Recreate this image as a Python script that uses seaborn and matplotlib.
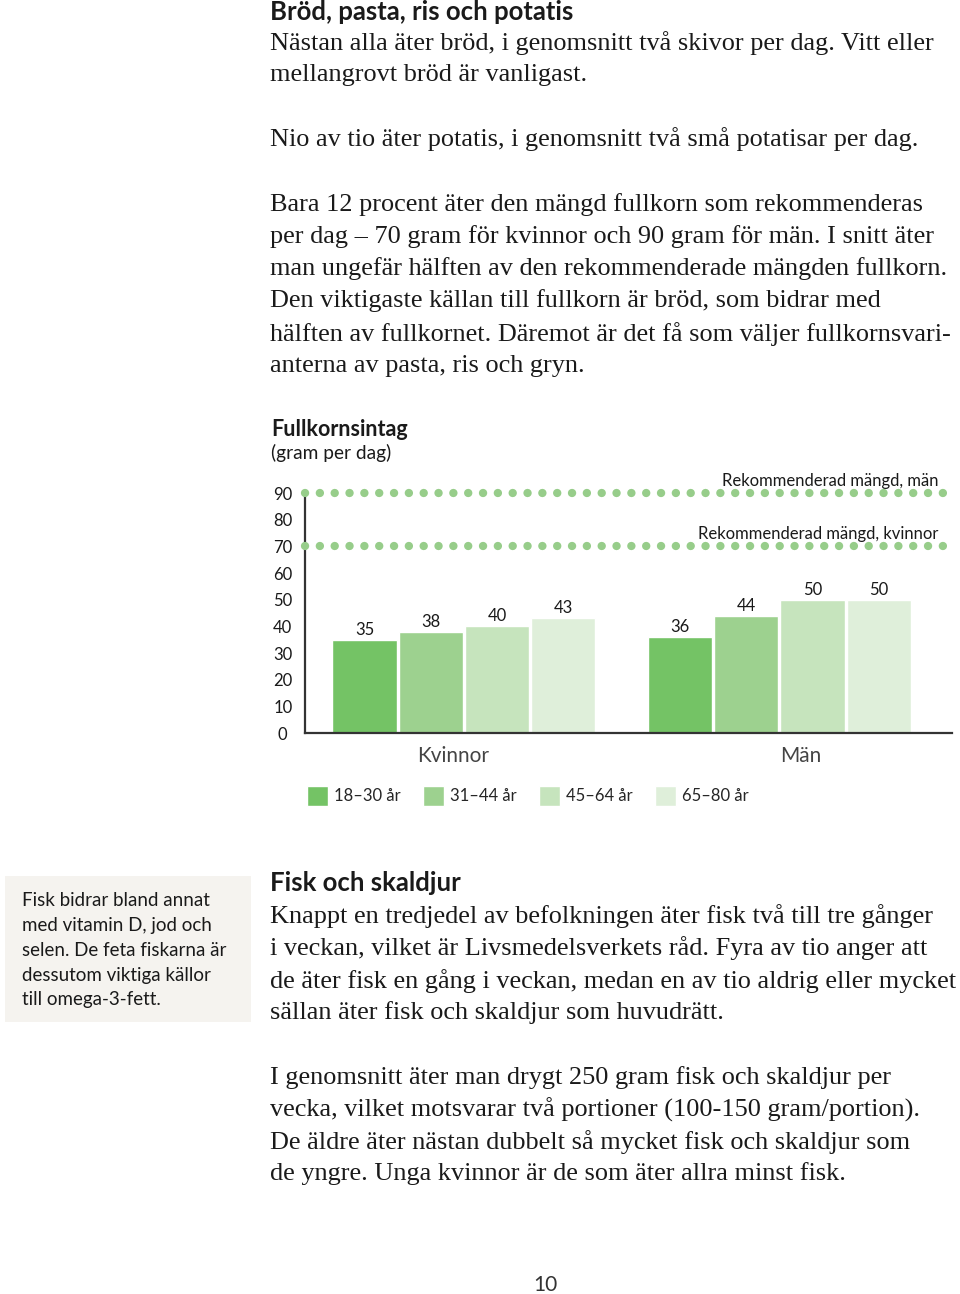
import matplotlib
matplotlib.use("Agg")
import matplotlib.pyplot as plt
import seaborn as sns
import pandas as pd

# ---------------- data ----------------
groups = ["Kvinnor", "Män"]
age_bands = ["18–30 år", "31–44 år", "45–64 år", "65–80 år"]
kvinnor_values = [35, 38, 40, 43]
man_values = [36, 44, 50, 50]
rek_man = 90
rek_kvinnor = 70
yticks = [0, 10, 20, 30, 40, 50, 60, 70, 80, 90]
palette = ["#74c365", "#9dd18f", "#c6e4bd", "#dfefda"]

heading1 = "Bröd, pasta, ris och potatis"
body1 = [
    (43, "Nästan alla äter bröd, i genomsnitt två skivor per dag. Vitt eller"),
    (75, "mellangrovt bröd är vanligast."),
    (139, "Nio av tio äter potatis, i genomsnitt två små potatisar per dag."),
    (205, "Bara 12 procent äter den mängd fullkorn som rekommenderas"),
    (237, "per dag – 70 gram för kvinnor och 90 gram för män. I snitt äter"),
    (269, "man ungefär hälften av den rekommenderade mängden fullkorn."),
    (301, "Den viktigaste källan till fullkorn är bröd, som bidrar med"),
    (334, "hälften av fullkornet. Däremot är det få som väljer fullkornsvari-"),
    (366, "anterna av pasta, ris och gryn."),
]
heading2 = "Fisk och skaldjur"
body2 = [
    (916, "Knappt en tredjedel av befolkningen äter fisk två till tre gånger"),
    (948, "i veckan, vilket är Livsmedelsverkets råd. Fyra av tio anger att"),
    (981, "de äter fisk en gång i veckan, medan en av tio aldrig eller mycket"),
    (1013, "sällan äter fisk och skaldjur som huvudrätt."),
    (1078, "I genomsnitt äter man drygt 250 gram fisk och skaldjur per"),
    (1110, "vecka, vilket motsvarar två portioner (100-150 gram/portion)."),
    (1142, "De äldre äter nästan dubbelt så mycket fisk och skaldjur som"),
    (1174, "de yngre. Unga kvinnor är de som äter allra minst fisk."),
]
sidebar = [
    (901, "Fisk bidrar bland annat"),
    (926, "med vitamin D, jod och"),
    (951, "selen. De feta fiskarna är"),
    (976, "dessutom viktiga källor"),
    (1000, "till omega-3-fett."),
]

# ---------------- setup ----------------
sns.set_theme(style="white")
plt.rcParams["font.family"] = ["Lato", "DejaVu Sans"]

W, H = 960, 1294
fig = plt.figure(figsize=(W / 100, H / 100), dpi=100)
fx = lambda px: px / W
fy = lambda px: 1 - px / H

TXT = "#1a1a1a"
SERIF = ["Liberation Serif", "DejaVu Serif"]
BODY_FS = 18.9

# page text
fig.text(fx(270), fy(12), heading1, fontsize=18.5, fontweight="bold", color=TXT, va="center", ha="left")
for y, s in body1:
    fig.text(fx(270), fy(y), s, fontsize=BODY_FS, family=SERIF, color=TXT, va="center", ha="left")
fig.text(fx(270), fy(883), heading2, fontsize=18.5, fontweight="bold", color=TXT, va="center", ha="left")
for y, s in body2:
    fig.text(fx(270), fy(y), s, fontsize=BODY_FS, family=SERIF, color=TXT, va="center", ha="left")

# sidebar box
box = plt.Rectangle((fx(5), fy(1022)), fx(251) - fx(5), fy(876) - fy(1022),
                    transform=fig.transFigure, facecolor="#f5f3ef", edgecolor="none", zorder=0)
fig.patches.append(box)
for y, s in sidebar:
    fig.text(fx(22), fy(y), s, fontsize=13.5, color=TXT, va="center", ha="left")

fig.text(fx(545), fy(1285), "10", fontsize=15, color="#333333", va="center", ha="center")

# chart title
fig.text(fx(271), fy(429), "Fullkornsintag", fontsize=15.5, fontweight="bold", color=TXT, va="center", ha="left")
fig.text(fx(271), fy(453), "(gram per dag)", fontsize=13.8, color=TXT, va="center", ha="left")

# ---------------- chart ----------------
ax = fig.add_axes([fx(305), fy(733), fx(952) - fx(305), fy(493) - fy(733)])
df = pd.DataFrame({
    "kon": [g for g in groups for _ in age_bands],
    "alder": age_bands * 2,
    "varde": kvinnor_values + man_values,
})
sns.barplot(data=df, x="kon", y="varde", hue="alder", order=groups, hue_order=age_bands,
            palette=palette, width=0.84, gap=0.03, saturation=1, ax=ax, errorbar=None)

for cont in ax.containers:
    ax.bar_label(cont, labels=[f"{v:.0f}" for v in cont.datavalues], padding=1.5,
                 fontsize=12, color=TXT)

dot_color = "#97cd8a"
for val in (rek_man, rek_kvinnor):
    ax.axhline(val, xmin=0, xmax=0.99, color=dot_color, lw=6, linestyle=(0, (0.01, 1.77)),
               dash_capstyle="round", zorder=3, clip_on=False)

ax.text(0.979, rek_man + 4.5, "Rekommenderad mängd, män", transform=ax.get_yaxis_transform(),
        ha="right", va="center", fontsize=12, color=TXT)
ax.text(0.979, rek_kvinnor + 4.5, "Rekommenderad mängd, kvinnor", transform=ax.get_yaxis_transform(),
        ha="right", va="center", fontsize=12, color=TXT)

ax.set_xlim(-0.504, 1.547)
ax.set_ylim(0, 90)
ax.set_yticks(yticks)
ax.set_yticklabels([str(t) for t in yticks], fontsize=12, color=TXT, ha="center")
ax.set_xticks([-0.035, 1.068])
ax.set_xticklabels(groups, fontsize=15, color="#444444")
ax.tick_params(axis="y", length=0, pad=16)
ax.tick_params(axis="x", length=0, pad=9)
ax.set_xlabel("")
ax.set_ylabel("")
for side in ("top", "right"):
    ax.spines[side].set_visible(False)
for side in ("left", "bottom"):
    ax.spines[side].set_color("#333333")
    ax.spines[side].set_linewidth(1.6)
ax.set_facecolor("none")
ax.grid(False)

sns.move_legend(ax, "center left", bbox_to_anchor=(fx(307), fy(796)), bbox_transform=fig.transFigure,
                ncol=4, title=None, frameon=False, fontsize=12, handlelength=1.26, handleheight=1.56,
                handletextpad=0.35, columnspacing=1.35, borderpad=0, borderaxespad=0)

fig.savefig("out.png", dpi=100, facecolor="white")
